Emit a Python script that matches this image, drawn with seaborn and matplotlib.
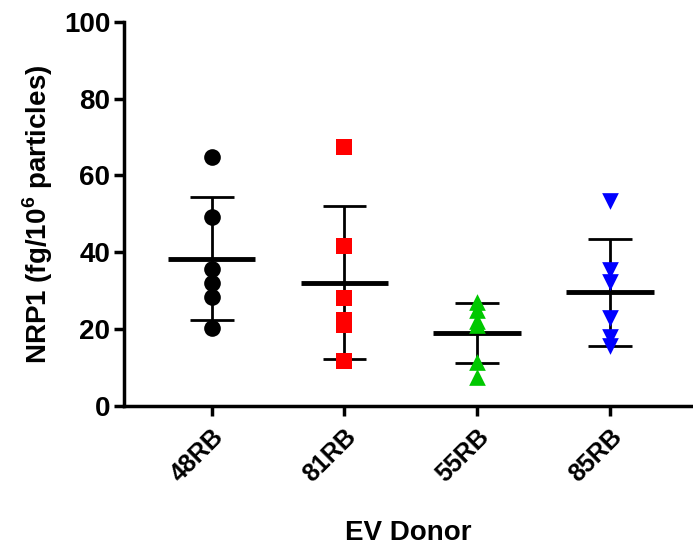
import matplotlib
matplotlib.use("Agg")
import matplotlib.pyplot as plt
import seaborn as sns
import pandas as pd
import numpy as np

donors = ["48RB", "81RB", "55RB", "85RB"]
v_48RB = [64.7, 49.1, 35.7, 31.9, 28.4, 20.4]
v_81RB = [67.4, 41.6, 28.2, 22.5, 21.0, 11.6]
v_55RB = [27.0, 25.0, 22.0, 21.0, 11.5, 7.5]
v_85RB = [53.4, 35.3, 32.3, 22.8, 18.0, 15.5]
colors = ["#000000", "#FF0000", "#00C800", "#0000FF"]
markers = ["o", "s", "^", "v"]
yticks = [0, 20, 40, 60, 80, 100]

df = pd.DataFrame({
    "donor": np.repeat(donors, 6),
    "value": v_48RB + v_81RB + v_55RB + v_85RB,
})

sns.set_style("ticks")
plt.rcParams["font.family"] = ["Liberation Sans", "DejaVu Sans"]
plt.rcParams["font.weight"] = "bold"
plt.rcParams["mathtext.fontset"] = "custom"
plt.rcParams["mathtext.rm"] = "Liberation Sans:bold"
plt.rcParams["mathtext.bf"] = "Liberation Sans:bold"
for k in ["text.color", "axes.labelcolor", "xtick.color", "ytick.color", "axes.edgecolor"]:
    plt.rcParams[k] = "black"

fig = plt.figure(figsize=(6.93, 5.52), dpi=100)
ax = fig.add_axes([0.179, 0.2645, 0.820, 0.696])

# error bars (mean ± SD) beneath markers
stats = df.groupby("donor", sort=False)["value"].agg(["mean", "std"]).reindex(donors)
for i, d in enumerate(donors):
    m, s = stats.loc[d, "mean"], stats.loc[d, "std"]
    ax.vlines(i, m - s, m + s, color="black", lw=2, zorder=1)
    ax.hlines([m - s, m + s], i - 0.165, i + 0.165, color="black", lw=2, zorder=1)
    ax.hlines(m, i - 0.33, i + 0.33, color="black", lw=3.5, zorder=1)

for i, d in enumerate(donors):
    sns.stripplot(data=df[df["donor"] == d], x="donor", y="value", order=donors,
                  jitter=False, marker=markers[i], color=colors[i], size=12,
                  linewidth=0, ax=ax, zorder=3)

ax.set_xlim(-0.66, 3.62)
ax.set_ylim(0, 100)
ax.set_yticks(yticks)
ax.set_yticklabels([str(t) for t in yticks], fontsize=20, fontweight="bold")
ax.set_xticks(range(len(donors)))
ax.set_xticklabels(donors, fontsize=18, fontweight="bold", rotation=45,
                   ha="right", va="top", rotation_mode="anchor")
ax.set_xlabel("EV Donor", fontsize=20, fontweight="bold", labelpad=24)
ax.set_ylabel(r"NRP1 (fg/10$^{\mathbf{6}}$ particles)", fontsize=20, fontweight="bold", labelpad=6)

for sp in ["top", "right"]:
    ax.spines[sp].set_visible(False)
for sp in ["left", "bottom"]:
    ax.spines[sp].set_linewidth(2.5)
    ax.spines[sp].set_color("black")
ax.tick_params(axis="both", direction="out", length=7, width=2.5, color="black", pad=3)
ax.tick_params(axis="x", pad=6)

fig.savefig("out.png", dpi=100)
